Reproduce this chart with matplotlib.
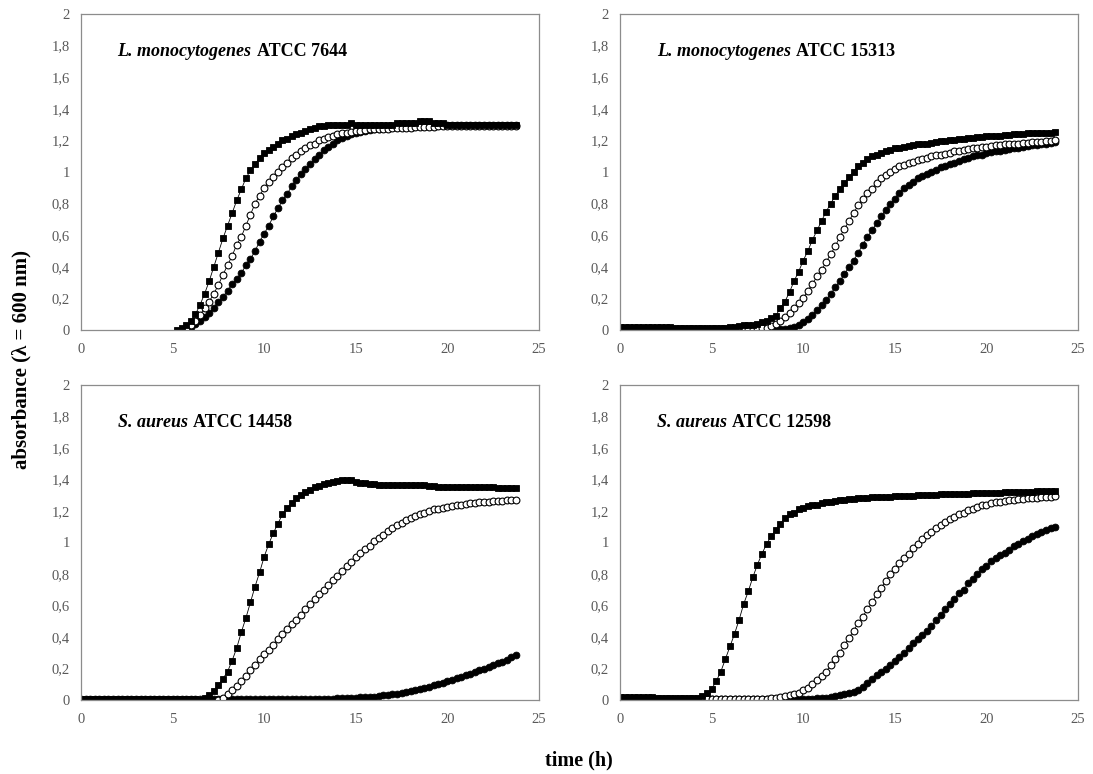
import numpy as np
import matplotlib
matplotlib.use("Agg")
import matplotlib.pyplot as plt
from matplotlib.ticker import FuncFormatter, MultipleLocator

N = None

# tempo de leitura (h), uma leitura a cada 15 min
tempo = np.arange(96) * 0.25

titulos_it = ["L. monocytogenes", "L. monocytogenes", "S. aureus", "S. aureus"]
titulos_atcc = ["ATCC 7644", "ATCC 15313", "ATCC 14458", "ATCC 12598"]

# ---- L. monocytogenes ATCC 7644 ----
tl_quad = [N, N, N, N,  N, N, N, N,  N, N, N, N,  N, N, N, N,  N, N, N, N,
           N, 0.00, 0.01, 0.03,
           0.06, 0.10, 0.16, 0.23,
           0.31, 0.40, 0.49, 0.58,
           0.66, 0.74, 0.82, 0.89,
           0.96, 1.01, 1.05, 1.09,
           1.12, 1.14, 1.16, 1.18,
           1.20, 1.21, 1.23, 1.24,
           1.25, 1.26, 1.27, 1.28,
           1.29, 1.29, 1.30, 1.30,
           1.30, 1.30, 1.30, 1.31,
           1.30, 1.30, 1.30, 1.30,
           1.30, 1.30, 1.30, 1.30,
           1.30, 1.31, 1.31, 1.31,
           1.31, 1.31, 1.32, 1.32,
           1.32, 1.31, 1.31, 1.31,
           1.30, 1.30, 1.30, 1.30,
           1.30, 1.30, 1.30, 1.30,
           1.30, 1.30, 1.30, 1.30,
           1.30, 1.30, 1.30, 1.30]
tl_aberto = [N, N, N, N,  N, N, N, N,  N, N, N, N,  N, N, N, N,  N, N, N, N,
             N, N, N, 0.01,
             0.03, 0.06, 0.095, 0.14,
             0.18, 0.23, 0.285, 0.35,
             0.41, 0.47, 0.54, 0.59,
             0.66, 0.73, 0.80, 0.85,
             0.90, 0.94, 0.97, 1.00,
             1.03, 1.06, 1.09, 1.11,
             1.13, 1.15, 1.17, 1.18,
             1.20, 1.21, 1.22, 1.23,
             1.24, 1.245, 1.25, 1.255,
             1.26, 1.26, 1.265, 1.27,
             1.27, 1.27, 1.275, 1.275,
             1.28, 1.28, 1.28, 1.28,
             1.28, 1.285, 1.285, 1.285,
             1.285, 1.285, 1.29, 1.29,
             1.29, 1.29, 1.29, 1.29,
             1.29, 1.29, 1.29, 1.29,
             1.29, 1.29, 1.29, 1.29,
             1.29, 1.29, 1.29, 1.29]
tl_cheio = [N, N, N, N,  N, N, N, N,  N, N, N, N,  N, N, N, N,  N, N, N, N,
            N, N, 0.00, 0.01,
            0.02, 0.04, 0.06, 0.08,
            0.11, 0.14, 0.18, 0.21,
            0.25, 0.29, 0.32, 0.36,
            0.41, 0.45, 0.50, 0.56,
            0.61, 0.66, 0.72, 0.77,
            0.82, 0.86, 0.91, 0.95,
            0.99, 1.02, 1.05, 1.08,
            1.11, 1.14, 1.16, 1.18,
            1.20, 1.215, 1.23, 1.24,
            1.25, 1.255, 1.26, 1.265,
            1.27, 1.275, 1.28, 1.28,
            1.285, 1.285, 1.29, 1.29,
            1.29, 1.29, 1.29, 1.29,
            1.29, 1.29, 1.295, 1.295,
            1.295, 1.295, 1.295, 1.295,
            1.295, 1.295, 1.295, 1.30,
            1.30, 1.30, 1.30, 1.30,
            1.30, 1.30, 1.30, 1.30]

# ---- L. monocytogenes ATCC 15313 ----
tr_quad = [0.02, 0.02, 0.02, 0.02,
           0.02, 0.02, 0.02, 0.02,
           0.02, 0.02, 0.02, 0.02,
           0.015, 0.015, 0.015, 0.015,
           0.015, 0.015, 0.015, 0.015,
           0.015, 0.015, 0.015, 0.015,
           0.02, 0.02, 0.025, 0.03,
           0.03, 0.035, 0.04, 0.05,
           0.06, 0.075, 0.09, 0.14,
           0.18, 0.24, 0.31, 0.37,
           0.44, 0.50, 0.57, 0.63,
           0.69, 0.75, 0.80, 0.85,
           0.89, 0.93, 0.97, 1.00,
           1.04, 1.06, 1.08, 1.10,
           1.11, 1.12, 1.13, 1.14,
           1.15, 1.155, 1.16, 1.165,
           1.17, 1.175, 1.18, 1.18,
           1.185, 1.19, 1.195, 1.195,
           1.20, 1.205, 1.21, 1.21,
           1.215, 1.215, 1.22, 1.22,
           1.225, 1.225, 1.23, 1.23,
           1.235, 1.235, 1.24, 1.24,
           1.24, 1.245, 1.245, 1.245,
           1.25, 1.25, 1.25, 1.255]
tr_aberto = [0.005, 0.005, 0.005, 0.005,
             0.005, 0.005, 0.005, 0.005,
             0.005, 0.005, 0.005, 0.005,
             0.005, 0.005, 0.005, 0.005,
             0.005, 0.005, 0.005, 0.005,
             0.005, 0.005, 0.005, 0.005,
             0.005, 0.005, 0.005, 0.005,
             0.005, 0.008, 0.01, 0.012,
             0.015, 0.025, 0.04, 0.06,
             0.08, 0.11, 0.14, 0.17,
             0.20, 0.25, 0.29, 0.34,
             0.38, 0.43, 0.48, 0.53,
             0.59, 0.64, 0.69, 0.74,
             0.79, 0.83, 0.865, 0.895,
             0.93, 0.96, 0.98, 1.00,
             1.02, 1.035, 1.045, 1.055,
             1.065, 1.075, 1.085, 1.09,
             1.10, 1.105, 1.11, 1.115,
             1.12, 1.13, 1.135, 1.14,
             1.145, 1.15, 1.155, 1.16,
             1.16, 1.165, 1.17, 1.17,
             1.175, 1.175, 1.18, 1.18,
             1.185, 1.185, 1.19, 1.19,
             1.19, 1.195, 1.195, 1.20]
tr_cheio = [0.005, 0.005, 0.005, 0.005,
            0.005, 0.005, 0.005, 0.005,
            0.005, 0.005, 0.005, 0.005,
            0.005, 0.005, 0.005, 0.005,
            0.005, 0.005, 0.005, 0.005,
            0.005, 0.005, 0.005, 0.005,
            0.005, 0.005, 0.005, 0.005,
            0.005, 0.005, 0.005, 0.005,
            0.005, 0.005, 0.005, 0.005,
            0.005, 0.01, 0.02, 0.03,
            0.05, 0.07, 0.095, 0.125,
            0.16, 0.19, 0.23, 0.27,
            0.31, 0.355, 0.40, 0.44,
            0.49, 0.54, 0.59, 0.63,
            0.675, 0.72, 0.76, 0.80,
            0.83, 0.87, 0.90, 0.92,
            0.94, 0.96, 0.975, 0.99,
            1.00, 1.015, 1.03, 1.04,
            1.05, 1.06, 1.07, 1.08,
            1.09, 1.10, 1.105, 1.11,
            1.12, 1.125, 1.13, 1.135,
            1.14, 1.145, 1.15, 1.155,
            1.16, 1.165, 1.17, 1.17,
            1.175, 1.18, 1.185, 1.19]

# ---- S. aureus ATCC 14458 ----
bl_quad = [0.005, 0.005, 0.005, 0.005,
           0.005, 0.005, 0.005, 0.005,
           0.005, 0.005, 0.005, 0.005,
           0.005, 0.005, 0.005, 0.005,
           0.005, 0.005, 0.005, 0.005,
           0.005, 0.005, 0.005, 0.005,
           0.005, 0.005, 0.0, 0.01,
           0.03, 0.06, 0.095, 0.135,
           0.18, 0.25, 0.33, 0.43,
           0.52, 0.62, 0.72, 0.81,
           0.91, 0.99, 1.06, 1.12,
           1.18, 1.22, 1.25, 1.28,
           1.30, 1.32, 1.335, 1.35,
           1.36, 1.37, 1.38, 1.385,
           1.39, 1.395, 1.395, 1.395,
           1.385, 1.38, 1.375, 1.37,
           1.37, 1.365, 1.365, 1.365,
           1.365, 1.365, 1.365, 1.365,
           1.365, 1.367, 1.367, 1.365,
           1.36, 1.36, 1.355, 1.355,
           1.355, 1.355, 1.355, 1.355,
           1.35, 1.35, 1.35, 1.35,
           1.35, 1.35, 1.35, 1.345,
           1.345, 1.345, 1.345, 1.345]
bl_aberto = [N, N, N, N,  N, N, N, N,  N, N, N, N,  N, N, N, N,
             N, N, N, N,  N, N, N, N,  N, N, N, N,
             N, N, 0.0, 0.015,
             0.036, 0.063, 0.09, 0.12,
             0.15, 0.19, 0.22, 0.26,
             0.29, 0.32, 0.35, 0.39,
             0.42, 0.45, 0.48, 0.51,
             0.54, 0.575, 0.61, 0.64,
             0.67, 0.70, 0.73, 0.76,
             0.79, 0.82, 0.85, 0.875,
             0.905, 0.935, 0.96, 0.98,
             1.01, 1.03, 1.05, 1.07,
             1.09, 1.11, 1.125, 1.14,
             1.155, 1.17, 1.18, 1.19,
             1.20, 1.21, 1.215, 1.22,
             1.225, 1.23, 1.235, 1.24,
             1.245, 1.25, 1.25, 1.255,
             1.26, 1.26, 1.262, 1.265,
             1.265, 1.268, 1.27, 1.27]
bl_cheio = [0.005, 0.005, 0.005, 0.005,
            0.005, 0.005, 0.005, 0.005,
            0.005, 0.005, 0.005, 0.005,
            0.005, 0.005, 0.005, 0.005,
            0.005, 0.005, 0.005, 0.005,
            0.005, 0.005, 0.005, 0.005,
            0.005, 0.005, 0.005, 0.005,
            0.005, 0.005, 0.005, 0.005,
            0.005, 0.005, 0.005, 0.005,
            0.005, 0.005, 0.005, 0.005,
            0.005, 0.005, 0.005, 0.005,
            0.005, 0.005, 0.005, 0.005,
            0.005, 0.005, 0.005, 0.005,
            0.007, 0.008, 0.008, 0.009,
            0.01, 0.01, 0.011, 0.012,
            0.015, 0.016, 0.018, 0.02,
            0.022, 0.025, 0.029, 0.032,
            0.036, 0.04, 0.045, 0.05,
            0.055, 0.062, 0.07, 0.077,
            0.085, 0.093, 0.10, 0.11,
            0.12, 0.128, 0.137, 0.147,
            0.157, 0.167, 0.178, 0.188,
            0.198, 0.21, 0.22, 0.232,
            0.244, 0.257, 0.27, 0.283]

# ---- S. aureus ATCC 12598 ----
br_quad = [0.02, 0.02, 0.02, 0.02,
           0.018, 0.018, 0.018, 0.018,
           0.015, 0.015, 0.015, 0.015,
           0.012, 0.012, 0.012, 0.012,
           0.012, 0.015, 0.025, 0.045,
           0.07, 0.12, 0.18, 0.26,
           0.34, 0.42, 0.51, 0.61,
           0.69, 0.78, 0.86, 0.93,
           0.99, 1.04, 1.08, 1.12,
           1.155, 1.18, 1.19, 1.21,
           1.22, 1.23, 1.235, 1.24,
           1.25, 1.255, 1.26, 1.265,
           1.27, 1.272, 1.275, 1.278,
           1.28, 1.282, 1.284, 1.286,
           1.288, 1.29, 1.29, 1.292,
           1.294, 1.295, 1.296, 1.297,
           1.298, 1.30, 1.30, 1.30,
           1.302, 1.304, 1.305, 1.306,
           1.308, 1.31, 1.31, 1.31,
           1.31, 1.312, 1.312, 1.314,
           1.315, 1.315, 1.316, 1.317,
           1.318, 1.318, 1.319, 1.32,
           1.32, 1.322, 1.323, 1.324,
           1.325, 1.327, 1.328, 1.33]
br_aberto = [0.005, 0.005, 0.005, 0.005,
             0.005, 0.005, 0.005, 0.005,
             0.005, 0.005, 0.005, 0.005,
             0.005, 0.005, 0.005, 0.005,
             0.005, 0.005, 0.005, 0.005,
             0.005, 0.005, 0.005, 0.005,
             0.005, 0.005, 0.005, 0.005,
             0.005, 0.005, 0.005, 0.005,
             0.007, 0.01, 0.015, 0.02,
             0.025, 0.03, 0.036, 0.046,
             0.063, 0.078, 0.10, 0.125,
             0.15, 0.18, 0.22, 0.26,
             0.30, 0.35, 0.395, 0.44,
             0.49, 0.53, 0.575, 0.62,
             0.67, 0.71, 0.755, 0.80,
             0.83, 0.87, 0.90, 0.93,
             0.965, 0.99, 1.02, 1.045,
             1.065, 1.09, 1.11, 1.13,
             1.15, 1.165, 1.18, 1.19,
             1.205, 1.215, 1.225, 1.235,
             1.24, 1.25, 1.255, 1.26,
             1.265, 1.27, 1.272, 1.275,
             1.278, 1.28, 1.283, 1.285,
             1.288, 1.29, 1.292, 1.295]
br_cheio = [0.005, 0.005, 0.005, 0.005,
            0.005, 0.005, 0.005, 0.005,
            0.005, 0.005, 0.005, 0.005,
            0.005, 0.005, 0.005, 0.005,
            0.005, 0.005, 0.005, 0.005,
            0.005, 0.005, 0.005, 0.005,
            0.005, 0.005, 0.005, 0.005,
            0.005, 0.005, 0.005, 0.005,
            0.005, 0.005, 0.005, 0.005,
            0.005, 0.005, 0.005, 0.005,
            0.005, 0.006, 0.008, 0.01,
            0.012, 0.015, 0.02, 0.025,
            0.03, 0.036, 0.045, 0.053,
            0.065, 0.085, 0.11, 0.135,
            0.16, 0.18, 0.20, 0.225,
            0.245, 0.275, 0.30, 0.33,
            0.36, 0.385, 0.41, 0.44,
            0.47, 0.51, 0.54, 0.575,
            0.61, 0.64, 0.68, 0.70,
            0.74, 0.77, 0.80, 0.83,
            0.85, 0.88, 0.90, 0.92,
            0.935, 0.955, 0.975, 0.99,
            1.01, 1.025, 1.04, 1.055,
            1.065, 1.077, 1.09, 1.10]

paineis = [
    (tl_quad, tl_aberto, tl_cheio),
    (tr_quad, tr_aberto, tr_cheio),
    (bl_quad, bl_aberto, bl_cheio),
    (br_quad, br_aberto, br_cheio),
]

plt.rcParams["font.family"] = ["Liberation Serif", "DejaVu Serif"]

fig = plt.figure(figsize=(10.93, 7.74), dpi=100)
# posicoes dos 4 paineis [esq, baixo, larg, alt]
posicoes = [
    [0.0741, 0.5736, 0.419, 0.4083],
    [0.5673, 0.5736, 0.419, 0.4083],
    [0.0741, 0.0956, 0.419, 0.4070],
    [0.5673, 0.0956, 0.419, 0.4070],
]

cinza = "#595959"
fmt_virgula = FuncFormatter(lambda v, p: f"{v:g}".replace(".", ","))

for i, (quad, aberto, cheio) in enumerate(paineis):
    ax = fig.add_axes(posicoes[i])
    y_cheio = np.array(cheio, dtype=float)
    y_aberto = np.array(aberto, dtype=float)
    y_quad = np.array(quad, dtype=float)

    ax.plot(tempo, y_cheio, color="black", lw=0.6, marker="o", ms=4.9,
            mfc="black", mec="black", mew=0.6)
    ax.plot(tempo, y_aberto, color="black", lw=0.6, marker="o", ms=4.9,
            mfc="white", mec="black", mew=0.8)
    ax.plot(tempo, y_quad, color="black", lw=0.6, marker="s", ms=4.9,
            mfc="black", mec="black", mew=0.6)

    ax.set_xlim(0, 25)
    ax.set_ylim(0, 2)
    ax.xaxis.set_major_locator(MultipleLocator(5))
    ax.yaxis.set_major_locator(MultipleLocator(0.2))
    ax.yaxis.set_major_formatter(fmt_virgula)
    ax.tick_params(length=0, labelsize=10.5, labelcolor=cinza)
    ax.tick_params(axis="x", pad=9.5)
    ax.tick_params(axis="y", pad=8)
    for sp in ax.spines.values():
        sp.set_color("#8c8c8c")
        sp.set_linewidth(0.9)

    ax.text(0.08, 0.88, titulos_it[i], transform=ax.transAxes,
            fontsize=13, fontweight="bold", fontstyle="italic", va="center")
    # parte nao italica logo depois do nome
    t = ax.texts[-1]
    fig.canvas.draw()
    bb = t.get_window_extent().transformed(ax.transAxes.inverted())
    ax.text(bb.x1 + 0.012, 0.88, titulos_atcc[i], transform=ax.transAxes,
            fontsize=13, fontweight="bold", va="center")

fig.text(0.02, 0.535, "absorbance (\u03bb = 600 nm)", rotation=90,
         fontsize=15, fontweight="bold", ha="center", va="center")
fig.text(0.53, 0.018, "time (h)", fontsize=14.5, fontweight="bold",
         ha="center", va="center")

fig.savefig("out.png", dpi=100)
